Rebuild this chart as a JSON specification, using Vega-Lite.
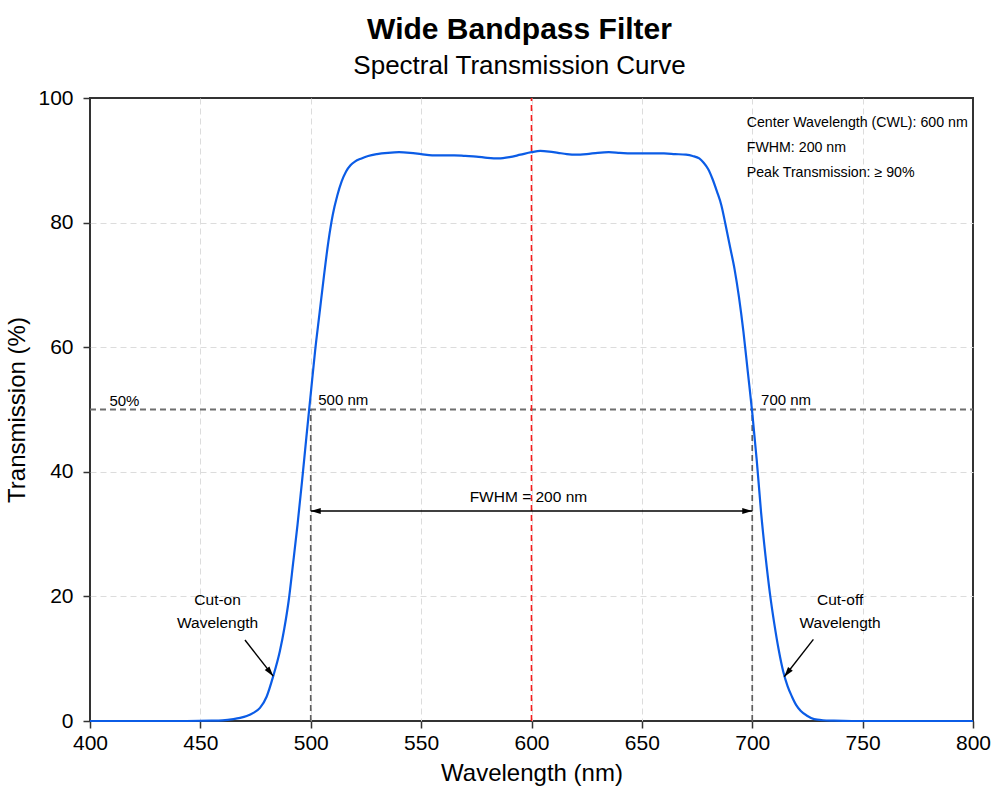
{
  "$schema": "https://vega.github.io/schema/vega-lite/v6.json",
  "width": 883,
  "height": 623,
  "autosize": {"type": "none"},
  "padding": {"left": 90, "top": 98, "right": 27, "bottom": 79},
  "background": "white",
  "title": {
    "text": "Wide Bandpass Filter",
    "subtitle": "Spectral Transmission Curve",
    "anchor": "middle",
    "dx": -12,
    "offset": 8,
    "font": "Liberation Sans",
    "fontSize": 30,
    "fontWeight": "bold",
    "color": "black",
    "subtitleFont": "Liberation Sans",
    "subtitleFontSize": 26,
    "subtitleColor": "black",
    "subtitlePadding": 8
  },
  "config": {
    "font": "Liberation Sans",
    "view": {"stroke": "#333333", "strokeWidth": 2},
    "axis": {
      "domain": false,
      "labelFont": "Liberation Sans",
      "labelFontSize": 21,
      "labelColor": "black",
      "labelFlush": false,
      "titleFont": "Liberation Sans",
      "titleFontSize": 24,
      "titleFontWeight": "normal",
      "titleColor": "black",
      "tickColor": "#333333",
      "tickSize": 7,
      "tickWidth": 1.5,
      "gridColor": "#dcdcdc",
      "gridDash": [6, 4],
      "gridWidth": 1
    }
  },
  "datasets": {
    "curve": [
      {"wavelength": 400, "transmission": 0},
      {"wavelength": 420, "transmission": 0},
      {"wavelength": 440, "transmission": 0},
      {"wavelength": 455, "transmission": 0.05},
      {"wavelength": 460, "transmission": 0.1},
      {"wavelength": 465, "transmission": 0.3},
      {"wavelength": 468, "transmission": 0.5},
      {"wavelength": 471, "transmission": 0.8},
      {"wavelength": 474, "transmission": 1.3},
      {"wavelength": 477, "transmission": 2.1},
      {"wavelength": 480, "transmission": 3.9},
      {"wavelength": 483, "transmission": 7.2},
      {"wavelength": 486, "transmission": 11.2},
      {"wavelength": 488, "transmission": 14.8},
      {"wavelength": 490, "transmission": 19.3},
      {"wavelength": 492, "transmission": 25.3},
      {"wavelength": 494, "transmission": 31.5},
      {"wavelength": 496, "transmission": 38.3},
      {"wavelength": 498, "transmission": 45.5},
      {"wavelength": 500, "transmission": 52.5},
      {"wavelength": 502, "transmission": 59.5},
      {"wavelength": 504, "transmission": 65.5},
      {"wavelength": 506, "transmission": 71.5},
      {"wavelength": 508, "transmission": 77.0},
      {"wavelength": 510, "transmission": 81.3},
      {"wavelength": 512, "transmission": 84.3},
      {"wavelength": 514, "transmission": 86.6},
      {"wavelength": 516, "transmission": 88.2},
      {"wavelength": 518, "transmission": 89.2},
      {"wavelength": 520, "transmission": 89.8},
      {"wavelength": 523, "transmission": 90.3},
      {"wavelength": 526, "transmission": 90.7},
      {"wavelength": 530, "transmission": 91.0},
      {"wavelength": 535, "transmission": 91.2},
      {"wavelength": 540, "transmission": 91.3},
      {"wavelength": 545, "transmission": 91.2},
      {"wavelength": 550, "transmission": 91.0},
      {"wavelength": 555, "transmission": 90.8},
      {"wavelength": 560, "transmission": 90.8},
      {"wavelength": 565, "transmission": 90.8},
      {"wavelength": 570, "transmission": 90.7},
      {"wavelength": 575, "transmission": 90.6},
      {"wavelength": 580, "transmission": 90.4},
      {"wavelength": 585, "transmission": 90.3},
      {"wavelength": 590, "transmission": 90.5},
      {"wavelength": 595, "transmission": 90.9},
      {"wavelength": 600, "transmission": 91.3},
      {"wavelength": 604, "transmission": 91.5},
      {"wavelength": 608, "transmission": 91.4},
      {"wavelength": 612, "transmission": 91.2},
      {"wavelength": 616, "transmission": 91.0},
      {"wavelength": 620, "transmission": 90.9},
      {"wavelength": 625, "transmission": 91.0},
      {"wavelength": 630, "transmission": 91.2},
      {"wavelength": 635, "transmission": 91.3},
      {"wavelength": 640, "transmission": 91.2},
      {"wavelength": 645, "transmission": 91.1},
      {"wavelength": 650, "transmission": 91.1},
      {"wavelength": 655, "transmission": 91.1},
      {"wavelength": 660, "transmission": 91.1},
      {"wavelength": 665, "transmission": 91.0},
      {"wavelength": 670, "transmission": 90.9},
      {"wavelength": 673, "transmission": 90.7},
      {"wavelength": 676, "transmission": 90.3},
      {"wavelength": 678, "transmission": 89.6},
      {"wavelength": 680, "transmission": 88.6},
      {"wavelength": 682, "transmission": 87.0},
      {"wavelength": 684, "transmission": 85.0},
      {"wavelength": 686, "transmission": 82.8},
      {"wavelength": 688, "transmission": 79.5},
      {"wavelength": 690, "transmission": 76.0},
      {"wavelength": 692, "transmission": 72.5},
      {"wavelength": 694, "transmission": 68.0},
      {"wavelength": 696, "transmission": 62.5},
      {"wavelength": 698, "transmission": 56.0},
      {"wavelength": 700, "transmission": 49.5},
      {"wavelength": 702, "transmission": 42.0},
      {"wavelength": 704, "transmission": 33.5},
      {"wavelength": 706, "transmission": 26.5},
      {"wavelength": 708, "transmission": 20.5},
      {"wavelength": 710, "transmission": 15.6},
      {"wavelength": 712, "transmission": 11.4},
      {"wavelength": 714, "transmission": 8.0},
      {"wavelength": 716, "transmission": 5.6},
      {"wavelength": 718, "transmission": 3.9},
      {"wavelength": 720, "transmission": 2.5},
      {"wavelength": 722, "transmission": 1.6},
      {"wavelength": 725, "transmission": 0.8},
      {"wavelength": 728, "transmission": 0.3},
      {"wavelength": 732, "transmission": 0.12},
      {"wavelength": 737, "transmission": 0.05},
      {"wavelength": 745, "transmission": 0},
      {"wavelength": 760, "transmission": 0},
      {"wavelength": 780, "transmission": 0},
      {"wavelength": 800, "transmission": 0}
    ]
  },
  "encoding": {
    "x": {
      "field": "wavelength",
      "type": "quantitative",
      "title": "Wavelength (nm)",
      "scale": {"domain": [400, 800], "nice": false},
      "axis": {
        "values": [400, 450, 500, 550, 600, 650, 700, 750, 800],
        "labelPadding": 4,
        "titlePadding": 8,
        "gridOpacity": {"condition": {"test": "datum.value == 400 || datum.value == 800", "value": 0}, "value": 1}
      }
    },
    "y": {
      "field": "transmission",
      "type": "quantitative",
      "title": "Transmission (%)",
      "scale": {"domain": [0, 100], "nice": false},
      "axis": {
        "values": [0, 20, 40, 60, 80, 100],
        "labelPadding": 10,
        "titlePadding": 8,
        "gridOpacity": {"condition": {"test": "datum.value == 0 || datum.value == 100", "value": 0}, "value": 1}
      }
    }
  },
  "layer": [
    {
      "data": {"values": [{"level": 50, "from": 400, "to": 800}]},
      "mark": {"type": "rule", "color": "#6e6e6e", "strokeWidth": 1.8, "strokeDash": [6, 4]},
      "encoding": {
        "x": {"field": "from", "type": "quantitative"},
        "x2": {"field": "to"},
        "y": {"field": "level", "type": "quantitative"}
      }
    },
    {
      "data": {"values": [{"wavelength": 500, "lo": 0, "hi": 50}, {"wavelength": 700, "lo": 0, "hi": 50}]},
      "mark": {"type": "rule", "color": "#5e5e5e", "strokeWidth": 1.7, "strokeDash": [6, 4]},
      "encoding": {
        "x": {"field": "wavelength", "type": "quantitative"},
        "y": {"field": "lo", "type": "quantitative"},
        "y2": {"field": "hi"}
      }
    },
    {
      "data": {"values": [{"wavelength": 600, "lo": 0, "hi": 100}]},
      "mark": {"type": "rule", "color": "#f41c1c", "strokeWidth": 1.6, "strokeDash": [6, 4]},
      "encoding": {
        "x": {"field": "wavelength", "type": "quantitative"},
        "y": {"field": "lo", "type": "quantitative"},
        "y2": {"field": "hi"}
      }
    },
    {
      "data": {"name": "curve"},
      "mark": {"type": "line", "color": "#0b5ce6", "strokeWidth": 2.2, "interpolate": "monotone"},
      "encoding": {}
    },
    {
      "data": {"values": [{"x1": 500, "x2": 700, "level": 33.7}]},
      "mark": {"type": "rule", "color": "black", "strokeWidth": 1.6},
      "encoding": {
        "x": {"field": "x1", "type": "quantitative"},
        "x2": {"field": "x2"},
        "y": {"field": "level", "type": "quantitative"}
      }
    },
    {
      "data": {"values": [{"x1": 470.2, "y1": 13.0, "x2": 483.0, "y2": 7.2}, {"x1": 727.7, "y1": 13.1, "x2": 714.5, "y2": 7.1}]},
      "mark": {"type": "rule", "color": "black", "strokeWidth": 1.4},
      "encoding": {
        "x": {"field": "x1", "type": "quantitative"},
        "x2": {"field": "x2"},
        "y": {"field": "y1", "type": "quantitative"},
        "y2": {"field": "y2"}
      }
    },
    {
      "data": {"values": [{"x": 500, "y": 33.7}]},
      "mark": {"type": "point", "shape": "M0,0L-0.6,2L0.6,2Z", "size": 100, "angle": 270, "filled": true, "color": "black", "opacity": 1},
      "encoding": {"x": {"field": "x", "type": "quantitative"}, "y": {"field": "y", "type": "quantitative"}}
    },
    {
      "data": {"values": [{"x": 700, "y": 33.7}]},
      "mark": {"type": "point", "shape": "M0,0L-0.6,2L0.6,2Z", "size": 100, "angle": 90, "filled": true, "color": "black", "opacity": 1},
      "encoding": {"x": {"field": "x", "type": "quantitative"}, "y": {"field": "y", "type": "quantitative"}}
    },
    {
      "data": {"values": [{"x": 483.0, "y": 7.2}]},
      "mark": {"type": "point", "shape": "M0,0L-0.6,2L0.6,2Z", "size": 100, "angle": 142, "filled": true, "color": "black", "opacity": 1},
      "encoding": {"x": {"field": "x", "type": "quantitative"}, "y": {"field": "y", "type": "quantitative"}}
    },
    {
      "data": {"values": [{"x": 714.5, "y": 7.1}]},
      "mark": {"type": "point", "shape": "M0,0L-0.6,2L0.6,2Z", "size": 100, "angle": 218, "filled": true, "color": "black", "opacity": 1},
      "encoding": {"x": {"field": "x", "type": "quantitative"}, "y": {"field": "y", "type": "quantitative"}}
    },
    {
      "data": {"values": [
        {"x": 408.8, "y": 51.4, "label": "50%"},
        {"x": 503.4, "y": 51.5, "label": "500 nm"},
        {"x": 704.0, "y": 51.5, "label": "700 nm"}
      ]},
      "mark": {"type": "text", "align": "left", "baseline": "middle", "fontSize": 15, "color": "black"},
      "encoding": {
        "x": {"field": "x", "type": "quantitative"},
        "y": {"field": "y", "type": "quantitative"},
        "text": {"field": "label"}
      }
    },
    {
      "data": {"values": [
        {"x": 598.6, "y": 35.9, "label": "FWHM = 200 nm"},
        {"x": 457.8, "y": 19.4, "label": "Cut-on"},
        {"x": 457.8, "y": 15.8, "label": "Wavelength"},
        {"x": 739.8, "y": 19.4, "label": "Cut-off"},
        {"x": 739.8, "y": 15.8, "label": "Wavelength"}
      ]},
      "mark": {"type": "text", "align": "center", "baseline": "middle", "fontSize": 15.5, "color": "black"},
      "encoding": {
        "x": {"field": "x", "type": "quantitative"},
        "y": {"field": "y", "type": "quantitative"},
        "text": {"field": "label"}
      }
    },
    {
      "data": {"values": [
        {"x": 697.5, "y": 96.0, "label": "Center Wavelength (CWL): 600 nm"},
        {"x": 697.5, "y": 91.9, "label": "FWHM: 200 nm"},
        {"x": 697.5, "y": 87.9, "label": "Peak Transmission: ≥ 90%"}
      ]},
      "mark": {"type": "text", "align": "left", "baseline": "middle", "fontSize": 14.2, "color": "black"},
      "encoding": {
        "x": {"field": "x", "type": "quantitative"},
        "y": {"field": "y", "type": "quantitative"},
        "text": {"field": "label"}
      }
    }
  ]
}
